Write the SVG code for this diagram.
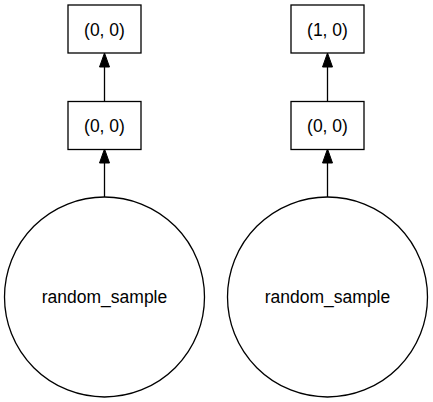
<svg xmlns="http://www.w3.org/2000/svg" width="433" height="402" viewBox="0 0 433 402">
<defs>
<style>
.n{fill:#fff;stroke:#000;stroke-width:1.3}
.t{font-family:"Liberation Sans",Arial,sans-serif;font-size:17.5px;fill:#000;text-anchor:middle}
.e{stroke:#000;stroke-width:1.3;fill:none}
.h{fill:#000;stroke:#000;stroke-width:1}
</style>
</defs>
<rect width="433" height="402" fill="#fff"/>
<g id="connectors">
<line class="e" x1="104.5" y1="197" x2="104.5" y2="163"/>
<path class="h" d="M99.5,163 L104.5,149 L109.5,163 Z"/>
<line class="e" x1="104.5" y1="101.5" x2="104.5" y2="67"/>
<path class="h" d="M99.5,67 L104.5,53 L109.5,67 Z"/>
<line class="e" x1="327.5" y1="197" x2="327.5" y2="163"/>
<path class="h" d="M322.5,163 L327.5,149 L332.5,163 Z"/>
<line class="e" x1="327.5" y1="101.5" x2="327.5" y2="67"/>
<path class="h" d="M322.5,67 L327.5,53 L332.5,67 Z"/>
</g>
<g id="n1"><rect class="n" x="68" y="5" width="73" height="48"/><text class="t" x="104.5" y="35.5">(0, 0)</text></g>
<g id="n2"><rect class="n" x="68" y="101.5" width="73" height="48"/><text class="t" x="104.5" y="131.5">(0, 0)</text></g>
<g id="n3"><circle class="n" cx="104.5" cy="297" r="100"/><text class="t" x="104.5" y="303">random_sample</text></g>
<g id="n4"><rect class="n" x="291" y="5" width="73" height="48"/><text class="t" x="327.5" y="35.5">(1, 0)</text></g>
<g id="n5"><rect class="n" x="291" y="101.5" width="73" height="48"/><text class="t" x="327.5" y="131.5">(0, 0)</text></g>
<g id="n6"><circle class="n" cx="327.5" cy="297" r="100"/><text class="t" x="327.5" y="303">random_sample</text></g>
</svg>
